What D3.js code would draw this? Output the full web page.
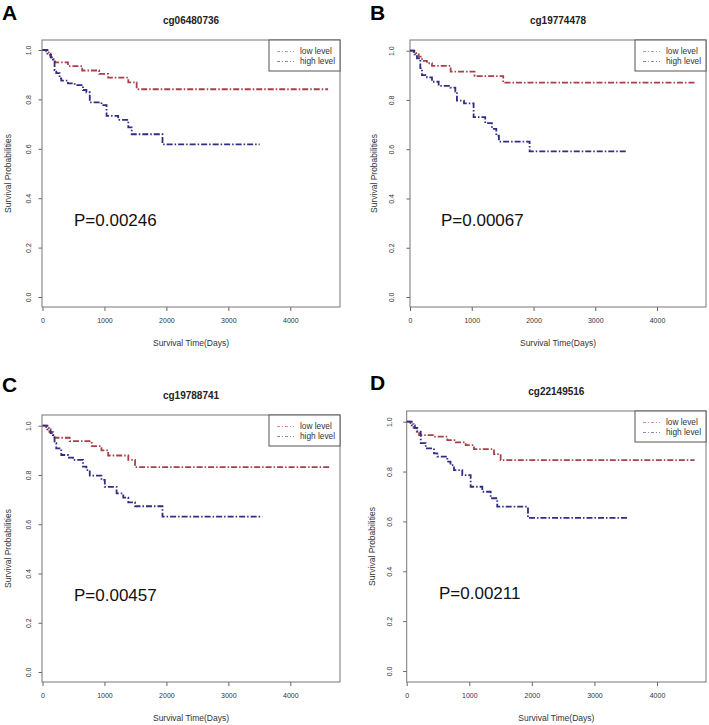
<!DOCTYPE html>
<html><head><meta charset="utf-8">
<script src="https://cdn.jsdelivr.net/npm/d3@7"></script>
<style>
body{margin:0;background:#fff;}
text{font-family:"Liberation Sans",Arial,sans-serif;}
</style></head>
<body>
<svg id="chart" width="709" height="725"></svg>
<script>
// ---------- data ----------
const panelLetters = ["A","B","C","D"];
const probeNames = ["cg06480736","cg19774478","cg19788741","cg22149516"];
const pValues = ["P=0.00246","P=0.00067","P=0.00457","P=0.00211"];
const seriesNames = ["low level","high level"];
const xTicks = [0,1000,2000,3000,4000];
const yTicks = [0,0.2,0.4,0.6,0.8,1.0];
const xTitle = "Survival Time(Days)";
const yTitle = "Survival Probabilities";

const aLowT  = [0,60,100,140,180,200,411,640,914,1060,1385,1520,4610];
const aLowS  = [1.0,0.99,0.98,0.97,0.96,0.95,0.935,0.917,0.903,0.888,0.869,0.841,0.841];
const aHighT = [0,80,130,168,195,222,276,303,411,519,654,709,763,952,1034,1222,1385,1440,1937,3506];
const aHighS = [1.0,0.985,0.97,0.953,0.919,0.906,0.885,0.876,0.865,0.858,0.838,0.829,0.788,0.777,0.733,0.717,0.687,0.659,0.618,0.618];

const bLowT  = [0,60,100,141,194,275,356,658,1046,1510,4623];
const bLowS  = [1.0,0.99,0.985,0.976,0.959,0.949,0.938,0.915,0.897,0.870,0.870];
const bHighT = [0,70,113,167,194,275,356,464,653,734,760,874,1030,1218,1327,1397,1440,1937,3517];
const bHighS = [1.0,0.985,0.969,0.929,0.901,0.892,0.874,0.857,0.850,0.834,0.797,0.786,0.730,0.706,0.683,0.655,0.631,0.591,0.591];

const cLowT  = [0,60,110,168,195,438,795,952,1060,1385,1494,4632];
const cLowS  = [1.0,0.99,0.975,0.962,0.951,0.937,0.917,0.9,0.879,0.861,0.832,0.832];
const cHighT = [0,80,130,168,195,222,303,411,492,654,709,763,952,1006,1196,1304,1385,1494,1937,3550];
const cHighS = [1.0,0.985,0.97,0.962,0.929,0.908,0.881,0.870,0.861,0.834,0.820,0.797,0.780,0.752,0.725,0.708,0.689,0.673,0.631,0.631];

const dLowT  = [0,60,110,160,198,436,649,783,943,1075,1395,1501,4601];
const dLowS  = [1.0,0.99,0.975,0.96,0.946,0.940,0.926,0.917,0.906,0.890,0.870,0.846,0.846];
const dHighT = [0,80,130,170,224,304,436,489,649,700,756,888,1022,1208,1342,1447,1938,3524];
const dHighS = [1.0,0.985,0.975,0.960,0.914,0.893,0.873,0.860,0.840,0.826,0.806,0.786,0.739,0.719,0.693,0.659,0.614,0.614];

const lowSeries  = [[aLowT,aLowS],[bLowT,bLowS],[cLowT,cLowS],[dLowT,dLowS]];
const highSeries = [[aHighT,aHighS],[bHighT,bHighS],[cHighT,cHighS],[dHighT,dHighS]];

// ---------- layout (pixels) ----------
const layout = [
  {x0:42.5, x4:290.3, y0:297, y1:50,   L:42,    R:340, T:40,  B:307, ox:0,   ylabX:28.3,  ytitX:8},
  {x0:410,  x4:657,   y0:297, y1:50.7, L:410,   R:706, T:40,  B:307, ox:354, ylabX:391.5, ytitX:374},
  {x0:42.5, x4:290.3, y0:672, y1:425.7,L:42,    R:340, T:415, B:682, ox:0,   ylabX:28.3,  ytitX:8},
  {x0:406.7,x4:657,   y0:671, y1:421.7,L:406.7, R:706, T:411, B:682, ox:354, ylabX:390,   ytitX:372}
];
const letterPos = [[2,20],[370,20],[2,392],[370,390]];
const pPos = [[74,226],[441,226],[74,601],[439,599]];
const colors = ["#a8404a","#2e2e82"];
const legendColors = ["#d89090","#8a8ab8"];

const svg = d3.select("#chart");
const ink = "#222";

layout.forEach((lo, i) => {
  const g = svg.append("g");
  const x = d3.scaleLinear().domain([0,4000]).range([lo.x0, lo.x4]);
  const y = d3.scaleLinear().domain([0,1]).range([lo.y0, lo.y1]);
  const cx = (lo.L + lo.R)/2, cy = (lo.T + lo.B)/2;

  // panel letter
  g.append("text").attr("x", letterPos[i][0]).attr("y", letterPos[i][1])
    .attr("font-size", 21).attr("font-weight", "bold").attr("fill", "#000").text(panelLetters[i]);
  // title
  g.append("text").attr("x", cx).attr("y", lo.T - 16).attr("text-anchor","middle")
    .attr("font-size", 10).attr("font-weight","bold").attr("fill", ink).text(probeNames[i]);

  // x axis
  const xa = g.append("g").attr("transform", `translate(0,${lo.B})`)
    .call(d3.axisBottom(x).tickValues(xTicks).tickFormat(d3.format("d")).tickSize(4).tickPadding(7));
  xa.select(".domain").remove();
  xa.selectAll("line").attr("stroke","#666");
  xa.selectAll("text").attr("font-size", 7).attr("fill", "#333").attr("font-family","Liberation Sans, Arial, sans-serif");

  // y axis
  const ya = g.append("g").attr("transform", `translate(${lo.L},0)`)
    .call(d3.axisLeft(y).tickValues(yTicks).tickFormat(d3.format(".1f")).tickSize(3.5).tickPadding(0));
  ya.select(".domain").remove();
  ya.selectAll("line").attr("stroke","#666");
  ya.selectAll("text").remove();
  ya.selectAll(".tick").append("text")
    .attr("transform", `translate(${lo.ylabX - lo.L},0) rotate(-90)`)
    .attr("text-anchor","middle").attr("dy","0.35em")
    .attr("font-size", 7).attr("fill","#333").attr("font-family","Liberation Sans, Arial, sans-serif")
    .text(d => d3.format(".1f")(d));

  // box
  g.append("rect").attr("x", lo.L).attr("y", lo.T).attr("width", lo.R - lo.L).attr("height", lo.B - lo.T)
    .attr("fill","none").attr("stroke","#777").attr("stroke-width",1);

  // axis titles
  g.append("text").attr("x", cx).attr("y", lo.B + 39).attr("text-anchor","middle")
    .attr("font-size", 8.5).attr("fill","#333").text(xTitle);
  g.append("text").attr("transform", `translate(${lo.ytitX},${cy}) rotate(-90)`)
    .attr("text-anchor","middle").attr("dy","0.35em").attr("font-size", 8.5).attr("fill","#333").text(yTitle);

  // curves
  const line = d3.line().x(d => x(d[0])).y(d => y(d[1])).curve(d3.curveStepAfter);
  [lowSeries[i], highSeries[i]].forEach((s, k) => {
    const pts = s[0].map((t, j) => [t, s[1][j]]);
    g.append("path").datum(pts).attr("d", line)
      .attr("fill","none").attr("stroke", colors[k]).attr("stroke-width", 1.8)
      .attr("stroke-dasharray","6,2,1.5,2");
  });

  // legend
  const lw = 71, lh = 31;
  const lx = lo.R - lw, lyTop = lo.T;
  g.append("rect").attr("x", lx).attr("y", lyTop).attr("width", lw).attr("height", lh)
    .attr("fill","#fff").attr("stroke","#555").attr("stroke-width",1);
  seriesNames.forEach((nm, k) => {
    const ly = lyTop + 11.5 + k*10;
    g.append("line").attr("x1", lx + 8).attr("x2", lx + 25).attr("y1", ly).attr("y2", ly)
      .attr("stroke", legendColors[k]).attr("stroke-width", 1).attr("stroke-dasharray","3,2,1,2");
    g.append("text").attr("x", lx + 31).attr("y", ly).attr("dy","0.35em")
      .attr("font-size", 8.3).attr("fill","#333").text(nm);
  });

  // p value
  g.append("text").attr("x", pPos[i][0]).attr("y", pPos[i][1])
    .attr("font-size", 17).attr("fill","#111").text(pValues[i]);
});
</script>
</body></html>
